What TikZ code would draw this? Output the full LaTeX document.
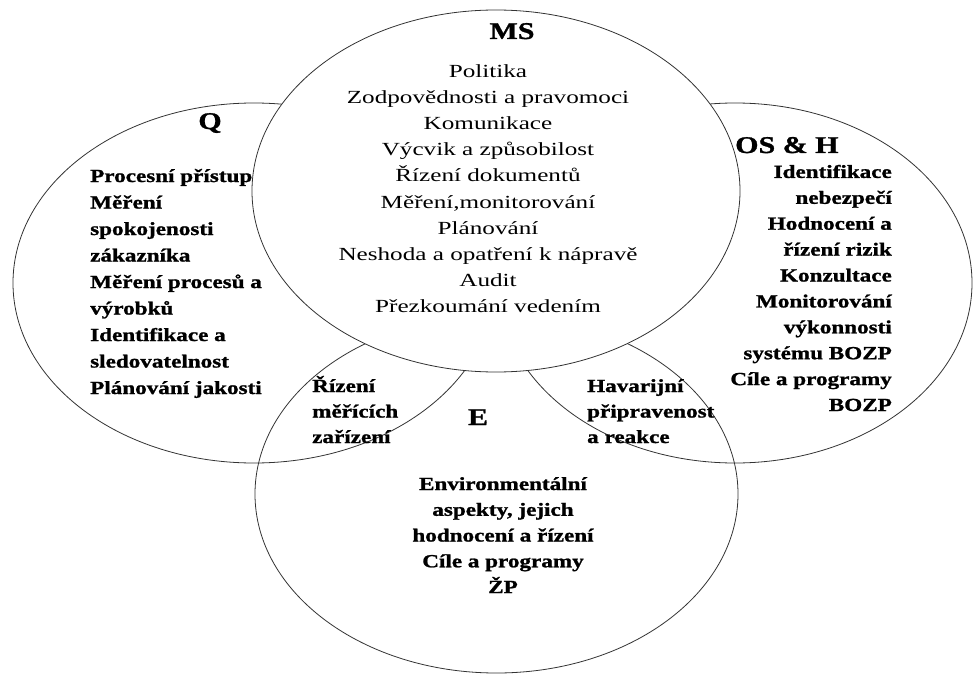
\documentclass[tikz,border=0pt]{standalone}
\usepackage{fontspec}
\newfontfamily\regfont{Liberation Serif}[FakeStretch=1.36]
\newfontfamily\boldfont{Liberation Serif}[FakeStretch=1.25,BoldFeatures={FakeBold=1.2}]
\begin{document}
\begin{tikzpicture}[x=1bp,y=-1bp,
  ell/.style={draw=black!80, line width=0.8bp},
  msell/.style={draw=black!80, fill=white, line width=0.8bp},
  ttl/.style={inner sep=0pt, font={\boldfont\bfseries\fontsize{24bp}{28bp}\selectfont}},
  regtxt/.style={inner sep=0pt, font={\regfont\fontsize{18.5bp}{26bp}\selectfont}},
  bldtxt/.style={inner sep=0pt, font={\boldfont\bfseries\fontsize{18.5bp}{#1}\selectfont}},
  bldtxt/.default=26bp]
\useasboundingbox (0,0) rectangle (973,675);
\fill[white] (0,0) rectangle (973,675);
% ellipses
\draw[ell] (254,283) ellipse [x radius=241bp, y radius=180bp];
\draw[ell] (735,283) ellipse [x radius=237bp, y radius=180bp];
\draw[ell] (496.5,494) ellipse [x radius=241.5bp, y radius=179bp];
\draw[msell] (496,191) ellipse [x radius=244bp, y radius=181bp];
% MS
\node[ttl, anchor=base] (msT) at (512,39) {MS};
\node[regtxt, align=center, anchor=base] (msB) at (488,312) {Politika\\Zodpovědnosti a pravomoci\\Komunikace\\Výcvik a způsobilost\\Řízení dokumentů\\Měření,monitorování\\Plánování\\Neshoda a opatření k nápravě\\Audit\\Přezkoumání vedením};
% Q
\node[ttl, anchor=base] (qT) at (210,129) {Q};
\node[bldtxt=26.5bp, align=left, anchor=base west] (qB) at (90,394) {Procesní přístup\\Měření\\spokojenosti\\zákazníka\\Měření procesů a\\výrobků\\Identifikace a\\sledovatelnost\\Plánování jakosti};
% OS & H
\node[ttl, anchor=base west] (oT) at (735,153) {OS \& H};
\node[bldtxt=25.9bp, align=right, anchor=base east] (oB) at (892,411) {Identifikace\\nebezpečí\\Hodnocení a\\řízení rizik\\Konzultace\\Monitorování\\výkonnosti\\systému BOZP\\Cíle a programy\\BOZP};
% E
\node[ttl, anchor=base] (eT) at (478,425) {E};
\node[bldtxt=25.75bp, align=center, anchor=base] (eB) at (503,593) {Environmentální\\aspekty, jejich\\hodnocení a řízení\\Cíle a programy\\ŽP};
% overlaps
\node[bldtxt=25.5bp, align=left, anchor=base west] (qe) at (312,443) {Řízení\\měřících\\zařízení};
\node[bldtxt=25.5bp, align=left, anchor=base west] (oe) at (587,443) {Havarijní\\připravenost\\a reakce};
\end{tikzpicture}
\end{document}
